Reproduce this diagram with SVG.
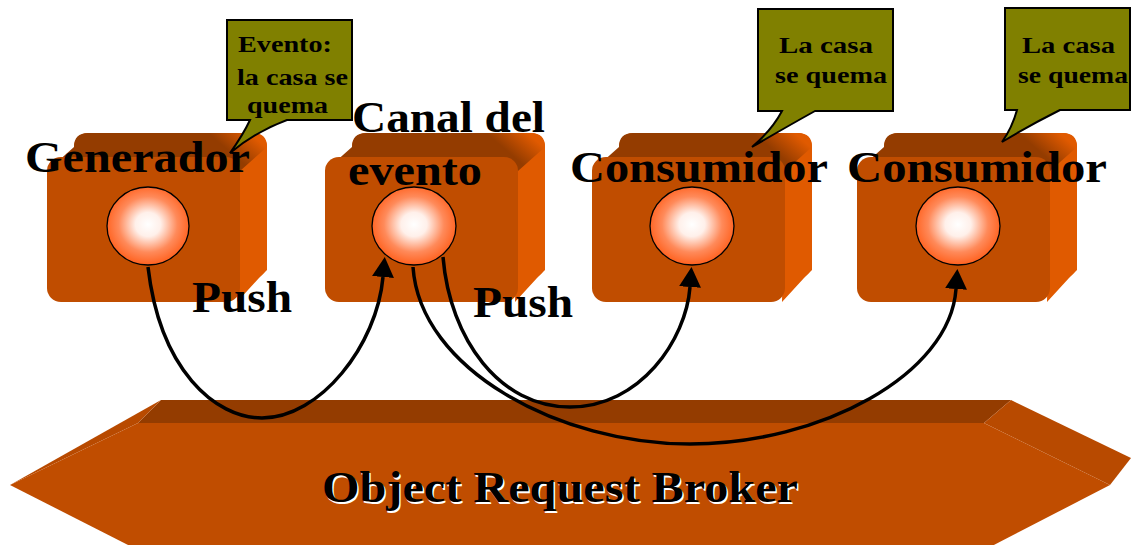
<svg xmlns="http://www.w3.org/2000/svg" width="1131" height="545" viewBox="0 0 1131 545">
  <style>
    .front { fill: #c04d00; }
    .top { fill: url(#topGrad); }
    .slab-top { fill: #943c00; }
    .side { fill: #e05a00; }
    .bevel { fill: #b84a00; }
    .label { font-family: "Liberation Serif", "Times New Roman", serif; font-weight: bold; font-size: 44px; fill: #000; }
    .note { font-family: "Liberation Serif", "Times New Roman", serif; font-weight: bold; font-size: 24px; fill: #000; }
    .bubble { fill: #808000; stroke: #000; stroke-width: 2; stroke-linejoin: miter; }
    .ball { fill: url(#ballGrad); stroke: #000; stroke-width: 1.3; }
    .link { fill: none; stroke: #000; stroke-width: 3.5; marker-end: url(#arrow); }
  </style>
  <defs>
    <radialGradient id="ballGrad" cx="50%" cy="48%" r="55%">
      <stop offset="0" stop-color="#ffffff"/>
      <stop offset="0.28" stop-color="#fff0ea"/>
      <stop offset="0.65" stop-color="#ff8a5a"/>
      <stop offset="1" stop-color="#ff5a14"/>
    </radialGradient>
    <linearGradient id="topGrad" x1="0" y1="0.6" x2="1" y2="0.4">
      <stop offset="0.82" stop-color="#943c00"/>
      <stop offset="1" stop-color="#e05a00"/>
    </linearGradient>
    <marker id="arrow" markerUnits="userSpaceOnUse" markerWidth="22" markerHeight="24" refX="0" refY="11" orient="auto">
      <path d="M0,0 L20,11 L0,22 Z" fill="#000"/>
    </marker>
    <!-- rounded 3D block: front face 193x145 at origin, depth offset (27,-24) -->
    <g id="block">
      <rect class="side" x="27" y="-24" width="193" height="145" rx="14"/>
      <polygon class="side" points="190,145 212,121 220,113 220,0 193,0"/>
      <path class="top" d="M0,14 L27,-10 Q27,-24 41,-24 L206,-24 Q220,-24 220,-10 L193,14 Z"/>
      <rect class="front" x="0" y="0" width="193" height="145" rx="14"/>
    </g>
  </defs>

  <!-- Object Request Broker slab -->
  <g id="orb">
    <polygon class="slab-top" points="161,400 1011,400 984,423 138,423"/>
    <polygon class="bevel" points="161,400 138,423 10,485"/>
    <polygon class="bevel" points="1011,400 1131,458 1110,485 984,423"/>
    <polygon class="front" points="138,423 984,423 1110,485 990,547 132,547 10,485"/>
    <text x="322" y="502" class="label" font-size="42" textLength="476" lengthAdjust="spacingAndGlyphs" style="fill:#fff" transform="translate(1.5,1.5)">Object Request Broker</text>
    <text x="322" y="502" class="label" font-size="42" textLength="476" lengthAdjust="spacingAndGlyphs">Object Request Broker</text>
  </g>

  <!-- Generador -->
  <g id="generador">
    <use href="#block" x="47" y="157"/>
    <ellipse class="ball" cx="148" cy="226" rx="41" ry="39"/>
  </g>

  <!-- Canal del evento -->
  <g id="canal">
    <use href="#block" x="325" y="157"/>
    <ellipse class="ball" cx="414" cy="226" rx="42" ry="39"/>
  </g>

  <!-- Consumidor 1 -->
  <g id="consumidor1">
    <use href="#block" x="592" y="157"/>
    <ellipse class="ball" cx="692" cy="226" rx="42" ry="39"/>
  </g>

  <!-- Consumidor 2 -->
  <g id="consumidor2">
    <use href="#block" x="857" y="157"/>
    <ellipse class="ball" cx="958" cy="226" rx="42" ry="39"/>
  </g>

  <!-- speech bubbles -->
  <g id="nota-evento">
    <path class="bubble" d="M227,20 H352 V120 H287 Q255,132 230,153 Q243,135 250,120 H227 Z"/>
    <text class="note" x="238" y="52" textLength="94" lengthAdjust="spacingAndGlyphs">Evento:</text>
    <text class="note" x="237" y="85" textLength="111" lengthAdjust="spacingAndGlyphs">la casa se</text>
    <text class="note" x="247" y="113" textLength="81" lengthAdjust="spacingAndGlyphs">quema</text>
  </g>
  <g id="nota-consumidor1">
    <path class="bubble" d="M758,9 H893 V111 H815 Q788,126 752,147 Q772,130 782,111 H758 Z"/>
    <text class="note" x="779" y="53" textLength="94" lengthAdjust="spacingAndGlyphs">La casa</text>
    <text class="note" x="775" y="83" textLength="112" lengthAdjust="spacingAndGlyphs">se quema</text>
  </g>
  <g id="nota-consumidor2">
    <path class="bubble" d="M1005,8 H1130 V110 H1060 Q1030,125 1002,142 Q1012,128 1017,110 H1005 Z"/>
    <text class="note" x="1022" y="53" textLength="93" lengthAdjust="spacingAndGlyphs">La casa</text>
    <text class="note" x="1018" y="83" textLength="110" lengthAdjust="spacingAndGlyphs">se quema</text>
  </g>

  <!-- push connectors -->
  <g id="connectors">
    <path class="link" d="M148,267 C160,370 215,418 262,418 C320,418 377,345 383,277"/>
    <path class="link" d="M443,257 C450,340 500,407 570,407 C640,407 686,340 690,287"/>
    <path class="link" d="M413,267 C420,370 560,444 690,444 C820,444 950,375 956,289"/>
  </g>

  <!-- node labels -->
  <g id="labels">
    <text class="label" x="25" y="172" textLength="225" lengthAdjust="spacingAndGlyphs">Generador</text>
    <text class="label" x="352" y="132" textLength="193" lengthAdjust="spacingAndGlyphs">Canal del</text>
    <text class="label" x="348" y="185" textLength="134" lengthAdjust="spacingAndGlyphs">evento</text>
    <text class="label" x="570" y="182" textLength="258" lengthAdjust="spacingAndGlyphs">Consumidor</text>
    <text class="label" x="847" y="182" textLength="260" lengthAdjust="spacingAndGlyphs">Consumidor</text>
    <text class="label" x="192" y="312" textLength="100" lengthAdjust="spacingAndGlyphs">Push</text>
    <text class="label" x="473" y="317" textLength="100" lengthAdjust="spacingAndGlyphs">Push</text>
  </g>
</svg>
